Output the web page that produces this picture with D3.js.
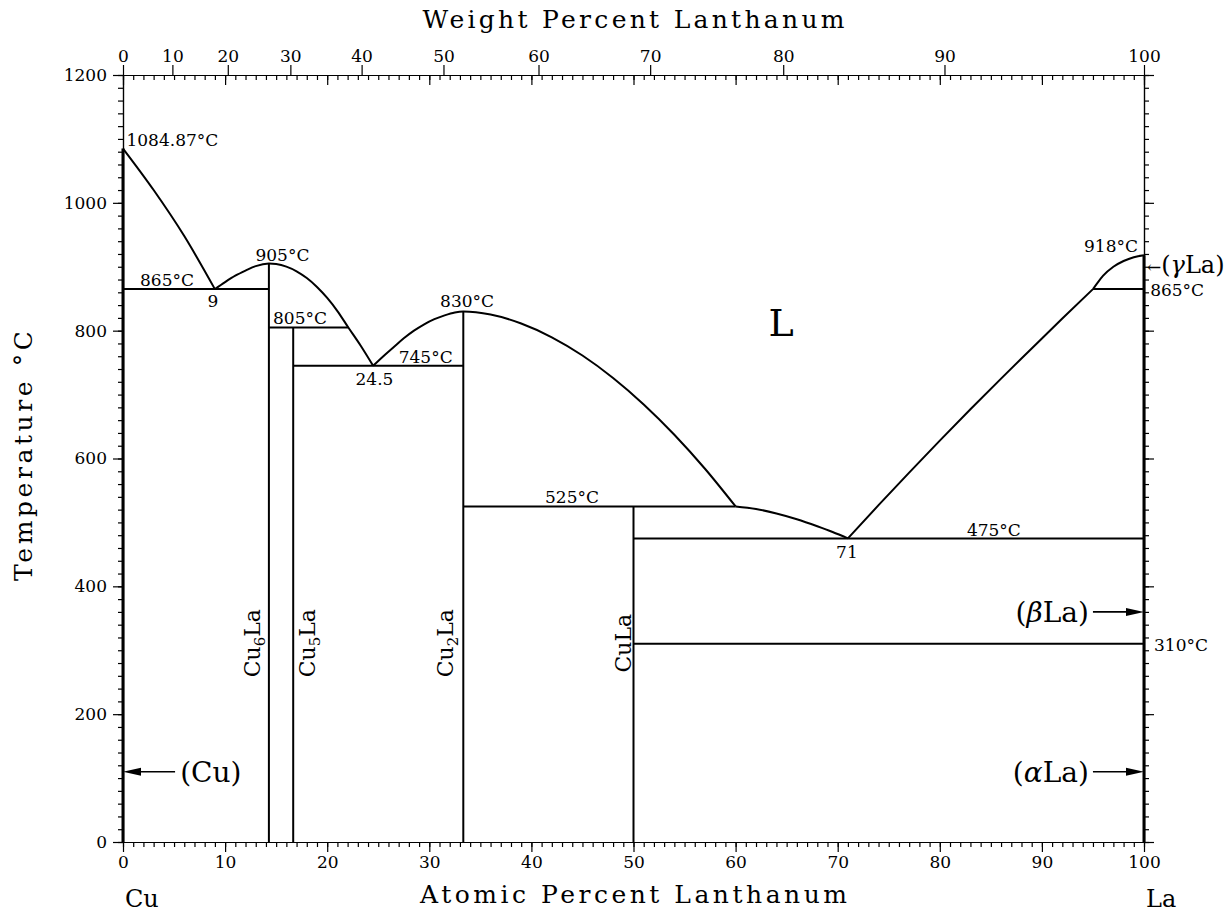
<!DOCTYPE html>
<html><head><meta charset="utf-8">
<script src="https://cdn.jsdelivr.net/npm/d3@7"></script>
<style>
html,body{margin:0;padding:0;background:#fff;}
svg{display:block;}
</style></head><body>
<svg id="chart" width="1229" height="912"></svg>
<script>
// ---------- data ----------
const atomicTickLabels = [0,10,20,30,40,50,60,70,80,90,100];
const weightTickLabels = [0,10,20,30,40,50,60,70,80,90,100];
const temperatureTickLabels = [0,200,400,600,800,1000,1200];
const atomicMassCu = 63.546, atomicMassLa = 138.9055;

// liquidus curves [at% La, °C]
const liquidusCu    = [[0,1084.87],[3,1020],[6,948],[9,865]];
const liquidusCu6La = [[9,865],[10,876],[11,886],[12,894],[13,901],[14.29,905],[15,904.2],[16,900.2],[17,892.9],[18,882.3],[19,868.4],[20,851.2],[21,830.7],[22.07,805],[23.3,776],[24.5,745]];
const liquidusCu2La = [[24.5,745],[25.5,760],[26.5,774],[27.5,788],[28.5,800],[29.5,810],[30.5,818],[31.5,824],[32.5,828.5],[33.33,830],[36,825.2],[39,811.2],[42,789.6],[45,761.1],[48,726],[51,684.6],[54,637.2],[57,584],[60,525]];
const liquidusCuLa  = [[60,525],[62,521],[64,514],[66,505],[68,494],[69.5,485],[71,475]];
const liquidusLa    = [[71,475],[74,527],[77,578],[80,628],[83,677],[86,725],[89,772],[92,819],[95,865]];
const liquidusGammaLa = [[95,865],[95.5,876],[96,886],[97,900],[98,909],[99,915],[100,918]];

// invariant (horizontal) lines: temperature, from at%, to at%
const invariantTemps = [865, 805, 745, 525, 475, 310, 865];
const invariantFrom  = [0, 14.29, 16.67, 33.33, 50, 50, 95];
const invariantTo    = [14.29, 22.07, 33.33, 60, 100, 100, 100];

// compounds: name, composition, top temperature
const compoundNames = ['Cu6La','Cu5La','Cu2La','CuLa'];
const compoundAt    = [14.29, 16.67, 33.33, 50];
const compoundTop   = [905, 805, 830, 525];
const compoundLabelAt = [13.42, 18.81, 32.35, 49.75];

// pure elements
const elementAt  = [0, 100];
const elementTop = [1084.87, 918];

// temperature / composition annotations
const annoText   = ['1084.87°C','865°C','9','905°C','805°C','830°C','745°C','24.5','525°C','475°C','71','918°C','865°C','310°C'];
const annoAt     = [0.34, 4.31, 8.81, 15.62, 17.34, 33.7, 29.65, 24.63, 43.98, 85.3, 70.9, 96.77, 100.6, 100.98];
const annoT      = [1089, 870, 837, 909, 810.4, 837, 749.4, 715, 530.4, 478.7, 444.3, 923, 854.2, 298.8];
const annoAnchor = ['start','middle','middle','middle','middle','middle','middle','middle','middle','middle','middle','middle','start','start'];

// phase labels with arrows
const phaseText    = ['(Cu)','(βLa)','(αLa)'];
const phaseTextAt  = [5.6, 94.6, 94.6];
const phaseTextT   = [94, 344, 94];
const phaseAnchor  = ['start','end','end'];
const arrowFromAt  = [5.1, 95.0, 95.0];
const arrowToAt    = [0, 100, 100];
const arrowT       = [110, 360, 110];

// ---------- drawing ----------
const svg = d3.select('#chart');
const FONT = '"DejaVu Serif", serif';
const x = d3.scaleLinear().domain([0,100]).range([123,1144]);
const y = d3.scaleLinear().domain([0,1200]).range([842,75]);

function wtToAt(w){
  if (w <= 0) return 0; if (w >= 100) return 100;
  const a = w/atomicMassLa, b = (100-w)/atomicMassCu;
  return 100*a/(a+b);
}

function styleAxis(g){
  g.attr('font-family', FONT).attr('font-size', 17);
  g.selectAll('path.domain').attr('stroke','#000').attr('stroke-width',1.2);
  g.selectAll('.tick line').attr('stroke','#000').attr('stroke-width',1.2);
  g.selectAll('.tick text').attr('fill','#000');
}

// bottom
svg.append('g').attr('transform','translate(0,842)')
  .call(d3.axisBottom(x).tickValues(d3.range(0,101,1)).tickSize(5).tickSizeOuter(0).tickFormat(''))
  .call(styleAxis);
svg.append('g').attr('transform','translate(0,842)')
  .call(d3.axisBottom(x).tickValues(atomicTickLabels).tickSize(10).tickSizeOuter(0).tickPadding(4).tickFormat(d3.format('d')))
  .call(styleAxis);
// top: atomic inward
svg.append('g').attr('transform','translate(0,75)')
  .call(d3.axisBottom(x).tickValues(d3.range(0,101,1)).tickSize(5).tickSizeOuter(0).tickFormat(''))
  .call(styleAxis);
svg.append('g').attr('transform','translate(0,75)')
  .call(d3.axisBottom(x).tickValues(atomicTickLabels).tickSize(10).tickSizeOuter(0).tickFormat(''))
  .call(styleAxis);
// top: weight outward
svg.append('g').attr('transform','translate(0,75)')
  .call(d3.axisTop(x).tickValues(weightTickLabels.map(wtToAt)).tickSize(10).tickSizeOuter(0).tickPadding(3)
    .tickFormat((d,i)=>weightTickLabels[i]))
  .call(styleAxis);
// left
svg.append('g').attr('transform','translate(123,0)')
  .call(d3.axisLeft(y).tickValues(d3.range(0,1201,20)).tickSize(5).tickSizeOuter(0).tickFormat(''))
  .call(styleAxis);
svg.append('g').attr('transform','translate(123,0)')
  .call(d3.axisLeft(y).tickValues(temperatureTickLabels).tickSize(10).tickSizeOuter(0).tickPadding(6).tickFormat(d3.format('d')))
  .call(styleAxis);
// right
svg.append('g').attr('transform','translate(1144,0)')
  .call(d3.axisRight(y).tickValues(d3.range(0,1201,20)).tickSize(5).tickSizeOuter(0).tickFormat(''))
  .call(styleAxis);
svg.append('g').attr('transform','translate(1144,0)')
  .call(d3.axisRight(y).tickValues(temperatureTickLabels).tickSize(10).tickSizeOuter(0).tickFormat(''))
  .call(styleAxis);

// axis titles
svg.append('text').attr('x', x(50)).attr('y', 28).attr('text-anchor','middle')
  .attr('font-family', FONT).attr('font-size', 25).attr('textLength', 422).attr('lengthAdjust','spacing')
  .text('Weight Percent Lanthanum');
svg.append('text').attr('x', x(50)).attr('y', 903).attr('text-anchor','middle')
  .attr('font-family', FONT).attr('font-size', 25).attr('textLength', 427).attr('lengthAdjust','spacing')
  .text('Atomic Percent Lanthanum');
svg.append('text').attr('transform','translate(32,456) rotate(-90)').attr('text-anchor','middle')
  .attr('font-family', FONT).attr('font-size', 25).attr('textLength', 250).attr('lengthAdjust','spacing')
  .text('Temperature °C');
svg.append('text').attr('x', 125).attr('y', 907).attr('font-family', FONT).attr('font-size', 24).text('Cu');
svg.append('text').attr('x', 1146).attr('y', 907).attr('font-family', FONT).attr('font-size', 24).text('La');

// phase diagram lines
const plot = svg.append('g').attr('fill','none').attr('stroke','#000').attr('stroke-width',2).attr('stroke-linejoin','round');
const line = d3.line().x(d=>x(d[0])).y(d=>y(d[1])).curve(d3.curveMonotoneX);
[liquidusCu, liquidusCu6La, liquidusCu2La, liquidusCuLa, liquidusLa, liquidusGammaLa].forEach(seg=>{
  plot.append('path').attr('d', line(seg));
});
invariantTemps.forEach((t,i)=>{
  plot.append('line').attr('x1', x(invariantFrom[i])).attr('x2', x(invariantTo[i]))
    .attr('y1', y(t)).attr('y2', y(t));
});
compoundAt.forEach((c,i)=>{
  plot.append('line').attr('x1', x(c)).attr('x2', x(c)).attr('y1', y(0)).attr('y2', y(compoundTop[i]));
});
elementAt.forEach((c,i)=>{
  plot.append('line').attr('x1', x(c)).attr('x2', x(c)).attr('y1', y(0)).attr('y2', y(elementTop[i])).attr('stroke-width',3);
});

// annotations
annoText.forEach((t,i)=>{
  svg.append('text').attr('x', x(annoAt[i])).attr('y', y(annoT[i])).attr('text-anchor', annoAnchor[i])
    .attr('font-family', FONT).attr('font-size', 17).text(t);
});

// liquid label
svg.append('text').attr('x', x(64.45)).attr('y', y(791.6)).attr('text-anchor','middle')
  .attr('font-family', FONT).attr('font-size', 38).text('L');

// gamma La label
(function(){
  const t = svg.append('text').attr('x', x(100.29)).attr('y', y(890)).attr('font-family', FONT).attr('font-size', 24);
  t.append('tspan').attr('font-size', 17).text('←');
  t.append('tspan').text('(');
  t.append('tspan').attr('font-style','italic').text('γ');
  t.append('tspan').text('La)');
})();

// phase labels with arrows
function richText(sel, str){
  for (const ch of str){
    if (/[α-ω]/.test(ch)) sel.append('tspan').attr('font-style','italic').text(ch);
    else sel.append('tspan').text(ch);
  }
}
phaseText.forEach((s,i)=>{
  const t = svg.append('text').attr('x', x(phaseTextAt[i])).attr('y', y(phaseTextT[i]))
    .attr('text-anchor', phaseAnchor[i]).attr('font-family', FONT).attr('font-size', 28);
  richText(t, s);
  const x0 = x(arrowFromAt[i]), x1 = x(arrowToAt[i]), yy = y(arrowT[i]);
  const dir = Math.sign(x1 - x0);
  svg.append('line').attr('x1', x0).attr('x2', x1 - dir*10).attr('y1', yy).attr('y2', yy)
    .attr('stroke','#000').attr('stroke-width',1.6);
  svg.append('path').attr('d', `M${x1},${yy} L${x1-dir*18},${yy-4} L${x1-dir*18},${yy+4} Z`).attr('fill','#000');
});

// compound labels (rotated, with subscripts)
compoundNames.forEach((name,i)=>{
  const t = svg.append('text')
    .attr('transform', `translate(${x(compoundLabelAt[i])},${y(311)}) rotate(-90)`)
    .attr('text-anchor','middle').attr('font-family', FONT).attr('font-size', 22);
  const parts = name.match(/[A-Za-z]+|\d+/g);
  let shifted = false;
  parts.forEach(p=>{
    if (/\d/.test(p)) { t.append('tspan').attr('font-size', 15).attr('dy', 5).text(p); shifted = true; }
    else { const ts = t.append('tspan').text(p); if (shifted){ ts.attr('dy', -5); shifted = false; } }
  });
});
</script>
</body></html>
